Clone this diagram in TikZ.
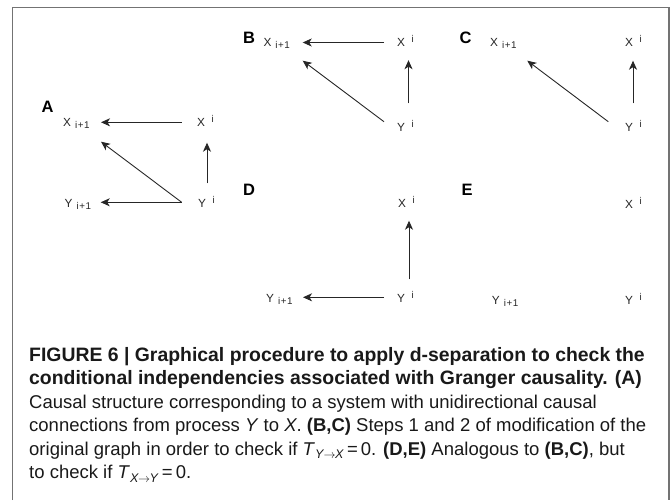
\documentclass[tikz,border=0pt]{standalone}
\usepackage{fontspec}
\setmainfont{Liberation Sans}
\usetikzlibrary{arrows.meta}
\newcommand{\lblsub}[1]{#1\hspace{4pt}\raisebox{-2pt}{\fontsize{9.8}{10}\selectfont i\kern0.6pt+\kern0.6pt1}}
\newcommand{\lblsup}[1]{#1\hspace{6.5pt}\raisebox{4pt}{\fontsize{9.8}{10}\selectfont i}}
\begin{document}
\begin{tikzpicture}[x=1pt,y=-1pt,
  lab/.style={anchor=base west,inner sep=0pt,font=\fontsize{11.8}{13}\selectfont,text=black!85},
  panel/.style={anchor=base west,inner sep=0pt,font=\fontsize{16.5}{18}\selectfont\bfseries},
  capl/.style={anchor=base west,inner sep=0pt,font=\fontsize{18.5}{23.5}\selectfont,text=black!90},
  capb/.style={capl,font=\fontsize{19.4}{23.5}\selectfont\bfseries},
  arr/.style={line width=0.9pt,draw=black!85,-{Stealth[length=9pt,width=8pt,inset=2.5pt]}},
  frame/.style={draw=black!55,line width=1.5pt}]
\useasboundingbox (0,0) rectangle (671,500);
% frame
\draw[frame] (12.5,500) -- (12.5,7.5) -- (669,7.5) -- (669,500);

% ---------- Panel A
\node[panel] (pA) at (41.5,112.7) {A};
\node[lab] (Axp) at (63,126.7) {\lblsub{X}};
\node[lab] (Axi) at (197,126.7) {\lblsup{X}};
\node[lab] (Ayp) at (64.5,207.3) {\lblsub{Y}};
\node[lab] (Ayi) at (198,207.3) {\lblsup{Y}};
\draw[arr] ([xshift=-15.3pt,yshift=4.4pt]Axi.base west) -- ([xshift=38pt,yshift=4.4pt]Axp.base west);
\draw[arr] ([xshift=-16.3pt,yshift=5pt]Ayi.base west) -- ([xshift=36.2pt,yshift=5pt]Ayp.base west);
\draw[arr] ([xshift=-16.3pt,yshift=5pt]Ayi.base west) -- ([xshift=38pt,yshift=-15pt]Axp.base west);
\draw[arr] ([xshift=9pt,yshift=24pt]Ayi.base west) -- ([xshift=10pt,yshift=-16pt]Axi.base west);

% ---------- Panel B
\node[panel] (pB) at (242.8,44) {B};
\node[lab] (Bxp) at (263.3,46.7) {\lblsub{X}};
\node[lab] (Bxi) at (397,46.7) {\lblsup{X}};
\node[lab] (Byi) at (397,131) {\lblsup{Y}};
\draw[arr] ([xshift=-13pt,yshift=4.2pt]Bxi.base west) -- ([xshift=39.4pt,yshift=4.2pt]Bxp.base west);
\draw[arr] ([xshift=-13pt,yshift=9.3pt]Byi.base west) -- ([xshift=39.4pt,yshift=-14pt]Bxp.base west);
\draw[arr] ([xshift=11.5pt,yshift=27.7pt]Byi.base west) -- ([xshift=11.5pt,yshift=-13.5pt]Bxi.base west);

% ---------- Panel C
\node[panel] (pC) at (459.5,44) {C};
\node[lab] (Cxp) at (490,46.7) {\lblsub{X}};
\node[lab] (Cxi) at (625,46.7) {\lblsup{X}};
\node[lab] (Cyi) at (625,131) {\lblsup{Y}};
\draw[arr] ([xshift=-16.7pt,yshift=9.3pt]Cyi.base west) -- ([xshift=37.3pt,yshift=-14pt]Cxp.base west);
\draw[arr] ([xshift=8pt,yshift=27.7pt]Cyi.base west) -- ([xshift=8pt,yshift=-14pt]Cxi.base west);

% ---------- Panel D
\node[panel] (pD) at (242.8,195) {D};
\node[lab] (Dxi) at (398,207.3) {\lblsup{X}};
\node[lab] (Dyp) at (266,302.7) {\lblsub{Y}};
\node[lab] (Dyi) at (397,302.7) {\lblsup{Y}};
\draw[arr] ([xshift=12pt,yshift=23.4pt]Dyi.base west) -- ([xshift=11pt,yshift=-13.4pt]Dxi.base west);
\draw[arr] ([xshift=-13pt,yshift=5.4pt]Dyi.base west) -- ([xshift=37pt,yshift=5.4pt]Dyp.base west);

% ---------- Panel E
\node[panel] (pE) at (461.5,195) {E};
\node[lab] (Exi) at (625,208.3) {\lblsup{X}};
\node[lab] (Eyp) at (491.7,304) {\lblsub{Y}};
\node[lab] (Eyi) at (625,304) {\lblsup{Y}};

% ---------- Caption
\node[capb] (c1) at (29,361) {FIGURE 6 | Graphical procedure to apply d-separation to check the};
\node[capb] (c2) at (29,384.5) {conditional independencies associated with Granger causality. (A)};
\node[capl] (c3) at (29,408) {Causal structure corresponding to a system with unidirectional causal};
\node[capl] (c4) at (29,431.5) {connections from process \textit{Y} to \textit{X}. \textbf{(B,C)} Steps 1 and 2 of modification of the};
\node[capl] (c5) at (29,455) {original graph in order to check if \textit{T}\raisebox{-3.5pt}{\fontsize{12.5}{13}\selectfont\textit{Y}\kern-0.5pt$\rightarrow$\kern-0.5pt\textit{X}}\,=\,0. \textbf{(D,E)} Analogous to \textbf{(B,C)}, but};
\node[capl] (c6) at (29,478.5) {to check if \textit{T}\raisebox{-3.5pt}{\fontsize{12.5}{13}\selectfont\textit{X}\kern-0.5pt$\rightarrow$\kern-0.5pt\textit{Y}}\,=\,0.};
\end{tikzpicture}
\end{document}
